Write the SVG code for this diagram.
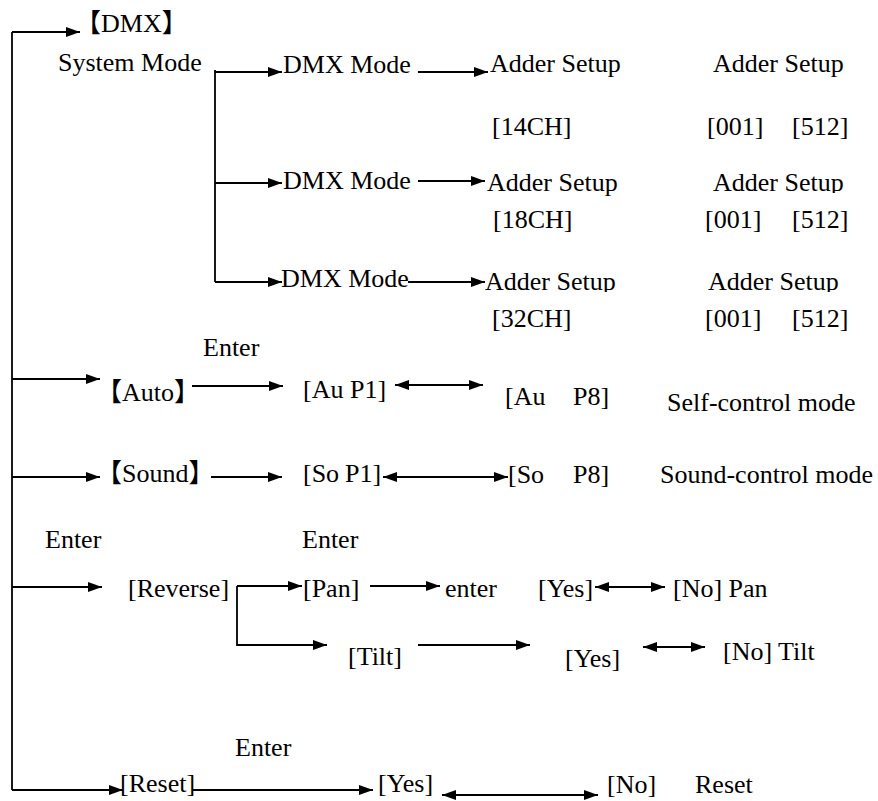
<svg xmlns="http://www.w3.org/2000/svg" width="878" height="801" viewBox="0 0 878 801">
<style>
text{font-family:"Liberation Serif","Times New Roman","DejaVu Serif",serif;font-size:26px;fill:#000}
.k{font-family:"Noto Sans CJK SC","Noto Sans CJK JP",sans-serif}
.c path{fill:none;stroke:#000;stroke-width:1.8}
.a{marker-end:url(#ah)}
.d{marker-start:url(#ah);marker-end:url(#ah)}
</style>
<defs>
<marker id="ah" markerUnits="userSpaceOnUse" markerWidth="14" markerHeight="10" refX="14" refY="5" orient="auto-start-reverse"><path d="M0,0 L14,5 L0,10 z" fill="#000"/></marker>
<clipPath id="clip2"><rect x="0" y="0" width="878" height="193"/></clipPath>
<clipPath id="clip3"><rect x="0" y="0" width="878" height="292"/></clipPath>
</defs>
<rect width="878" height="801" fill="#fff"/>
<g class="c" id="connectors">
<path d="M12,32 V790"/>
<path class="a" d="M12,32 H80"/>
<path d="M215,70 V282"/>
<path class="a" d="M215,72 H282"/>
<path class="a" d="M215,183 H282"/>
<path class="a" d="M215,282 H282"/>
<path class="a" d="M418,72 H488"/>
<path class="a" d="M418,181 H485"/>
<path class="a" d="M408,282 H485"/>
<path class="a" d="M12,379 H100"/>
<path class="a" d="M192,386 H283"/>
<path class="d" d="M395,385 H483"/>
<path class="a" d="M12,477 H100"/>
<path class="a" d="M211,477 H282"/>
<path class="d" d="M383,477 H508"/>
<path class="a" d="M12,587 H102"/>
<path class="a" d="M237,586 H302"/>
<path class="a" d="M237,586 V645 H327"/>
<path class="a" d="M370,586 H440"/>
<path class="d" d="M595,587 H665"/>
<path class="a" d="M418,645 H530"/>
<path class="d" d="M643,647 H705"/>
<path class="a" d="M12,790 H123"/>
<path class="a" d="M193,790 H373"/>
<path class="d" d="M442,795 H598"/>
</g>
<g id="n-dmx"><text x="75" y="32"><tspan class="k">【</tspan>DMX<tspan class="k">】</tspan></text></g>
<g id="n-system"><text x="58" y="71">System Mode</text></g>
<g id="n-dmx1"><text x="283" y="73">DMX Mode</text></g>
<g id="n-dmx2"><text x="283" y="189">DMX Mode</text></g>
<g id="n-dmx3"><text x="281" y="287">DMX Mode</text></g>
<g id="n-adder1"><text x="490" y="72">Adder Setup</text><text x="492" y="135">[14CH]</text></g>
<g id="n-adder1r"><text x="713" y="72">Adder Setup</text><text x="707" y="135">[001]</text><text x="792" y="135">[512]</text></g>
<g id="n-adder2"><text x="487" y="191">Adder Setup</text><text x="493" y="228">[18CH]</text></g>
<g id="n-adder2r"><text x="713" y="191" clip-path="url(#clip2)">Adder Setup</text><text x="705" y="228">[001]</text><text x="792" y="228">[512]</text></g>
<g id="n-adder3"><text x="485" y="290" clip-path="url(#clip3)">Adder Setup</text><text x="492" y="327">[32CH]</text></g>
<g id="n-adder3r"><text x="708" y="290" clip-path="url(#clip3)">Adder Setup</text><text x="705" y="327">[001]</text><text x="792" y="327">[512]</text></g>
<g id="l-enter1"><text x="203" y="356">Enter</text></g>
<g id="n-auto"><text x="96" y="401"><tspan class="k">【</tspan>Auto<tspan class="k">】</tspan></text></g>
<g id="n-aup1"><text x="303" y="398">[Au P1]</text></g>
<g id="n-aup8"><text x="505" y="405">[Au<tspan x="573">P8]</tspan></text></g>
<g id="l-self"><text x="667" y="411">Self-control mode</text></g>
<g id="n-sound"><text x="96" y="482"><tspan class="k">【</tspan>Sound<tspan class="k">】</tspan></text></g>
<g id="n-sop1"><text x="303" y="482">[So<tspan x="345">P1]</tspan></text></g>
<g id="n-sop8"><text x="508" y="483">[So<tspan x="573">P8]</tspan></text></g>
<g id="l-sound"><text x="660" y="483">Sound-control mode</text></g>
<g id="l-enter2"><text x="45" y="548">Enter</text></g>
<g id="l-enter3"><text x="302" y="548">Enter</text></g>
<g id="n-reverse"><text x="128" y="597">[Reverse]</text></g>
<g id="n-pan"><text x="303" y="597">[Pan]</text></g>
<g id="n-enter"><text x="445" y="597">enter</text></g>
<g id="n-yes1"><text x="538" y="597">[Yes]</text></g>
<g id="n-nopan"><text x="673" y="597">[No] Pan</text></g>
<g id="n-tilt"><text x="348" y="665">[Tilt]</text></g>
<g id="n-yes2"><text x="565" y="667">[Yes]</text></g>
<g id="n-notilt"><text x="723" y="660">[No] Tilt</text></g>
<g id="l-enter4"><text x="235" y="756">Enter</text></g>
<g id="n-reset"><text x="120" y="792">[Reset]</text></g>
<g id="n-yes3"><text x="378" y="792">[Yes]</text></g>
<g id="n-no3"><text x="607" y="793">[No]</text></g>
<g id="l-reset"><text x="695" y="793">Reset</text></g>
</svg>
